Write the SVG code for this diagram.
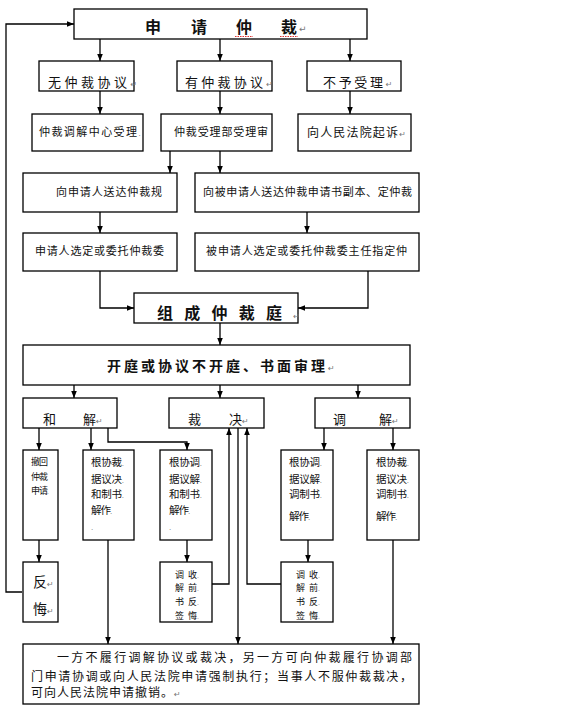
<svg xmlns="http://www.w3.org/2000/svg" width="577" height="707" viewBox="0 0 577 707">
<style>
rect.b{fill:#fff;stroke:#000;stroke-width:1.3}
text{font-family:"Noto Sans CJK SC","Noto Sans",sans-serif;fill:#111}
.t{font-weight:700}
.pm{font-family:"DejaVu Sans",sans-serif;fill:#777;font-weight:400}
#conn path{fill:none;stroke:#000;stroke-width:1.3}
.ar{marker-end:url(#a)}
</style>
<defs>
<marker id="a" viewBox="0 0 10 10" refX="10" refY="5" markerWidth="7" markerHeight="7" orient="auto" markerUnits="userSpaceOnUse"><path d="M0,1 L10,5 L0,9 z" fill="#000"/></marker>
</defs>
<rect width="577" height="707" fill="#fff"/>
<g id="conn">
<path class="ar" d="M22,592 H6 V24 H74"/>
<path class="ar" d="M100,39 V61"/><path class="ar" d="M220,39 V61"/><path class="ar" d="M350,39 V61"/>
<path class="ar" d="M100,91 V114"/><path class="ar" d="M220,91 V114"/><path class="ar" d="M350,91 V114"/>
<path class="ar" d="M170,151 V173"/><path class="ar" d="M220,151 V173"/>
<path class="ar" d="M100,212 V233"/><path class="ar" d="M307,212 V233"/>
<path class="ar" d="M100,271 V308 H134"/><path class="ar" d="M368,271 V308 H298"/>
<path class="ar" d="M220,323 V345"/>
<path class="ar" d="M74,385 V398"/><path class="ar" d="M220,385 V398"/><path class="ar" d="M358,385 V398"/>
<path class="ar" d="M39,428 V450"/><path class="ar" d="M91,428 V450"/><path class="ar" d="M108,428 V442 H187 V450"/>
<path class="ar" d="M324,428 V450"/><path class="ar" d="M393,428 V450"/>
<path class="ar" d="M39,540 V562"/><path class="ar" d="M187,540 V562"/><path class="ar" d="M308,540 V562"/>
<path class="ar" d="M212,584 H229 V428"/><path class="ar" d="M281,584 H247 V428"/>
<path class="ar" d="M238,428 V644"/><path class="ar" d="M108,540 V644"/><path class="ar" d="M393,540 V644"/>
</g>
<g id="n1"><rect class="b" x="74" y="9" width="293" height="30"/>
<text class="t" font-size="16" y="33"><tspan x="145">申</tspan><tspan x="191">请</tspan><tspan x="236">仲</tspan><tspan x="281">裁</tspan><tspan class="pm" font-size="9" x="299" y="32">↵</tspan></text>
<path d="M235,36.5 H253 M280,36.5 H298" stroke="#d33" stroke-width="1" stroke-dasharray="1.5,1"/></g>
<g id="n2"><rect class="b" x="39" y="61" width="95" height="30"/>
<text font-size="13" y="87"><tspan x="48" textLength="79" lengthAdjust="spacing">无仲裁协议</tspan><tspan class="pm" font-size="8">↵</tspan></text></g>
<g id="n3"><rect class="b" x="177" y="61" width="95" height="30"/>
<text font-size="13" y="87"><tspan x="185" textLength="78" lengthAdjust="spacing">有仲裁协议</tspan><tspan class="pm" font-size="8">↵</tspan></text></g>
<g id="n4"><rect class="b" x="307" y="61" width="94" height="30"/>
<text font-size="13" y="87"><tspan x="323" textLength="60" lengthAdjust="spacing">不予受理</tspan><tspan class="pm" font-size="8">↵</tspan></text></g>
<g id="n5"><rect class="b" x="32" y="114" width="111" height="37"/>
<text font-size="11" y="136"><tspan x="39" textLength="98" lengthAdjust="spacing">仲裁调解中心受理</tspan><tspan class="pm" font-size="7">.</tspan></text></g>
<g id="n6"><rect class="b" x="161" y="114" width="111" height="37"/>
<text font-size="11" y="136" x="174" textLength="94" lengthAdjust="spacing">仲裁受理部受理审</text></g>
<g id="n7"><rect class="b" x="298" y="114" width="113" height="37"/>
<text font-size="12" y="137"><tspan x="307" textLength="91" lengthAdjust="spacing">向人民法院起诉</tspan><tspan class="pm" font-size="8">↵</tspan></text></g>
<g id="n8"><rect class="b" x="23" y="173" width="154" height="39"/>
<text font-size="11" y="196" x="56" textLength="106" lengthAdjust="spacing">向申请人送达仲裁规</text></g>
<g id="n9"><rect class="b" x="195" y="173" width="224" height="39"/>
<text font-size="11" y="196" x="203" textLength="209" lengthAdjust="spacing">向被申请人送达仲裁申请书副本、定仲裁</text></g>
<g id="n10"><rect class="b" x="23" y="233" width="154" height="38"/>
<text font-size="11" y="255" x="35" textLength="129" lengthAdjust="spacing">申请人选定或委托仲裁委</text></g>
<g id="n11"><rect class="b" x="195" y="233" width="224" height="38"/>
<text font-size="11" y="255" x="206" textLength="201" lengthAdjust="spacing">被申请人选定或委托仲裁委主任指定仲</text></g>
<g id="n12"><rect class="b" x="134" y="293" width="164" height="30"/>
<text class="t" font-size="16" y="319"><tspan x="157" textLength="125" lengthAdjust="spacing">组成仲裁庭</tspan><tspan class="pm" font-size="8">↵</tspan></text></g>
<g id="n13"><rect class="b" x="23" y="345" width="387" height="40"/>
<text class="t" font-size="14" y="371"><tspan x="107" textLength="218" lengthAdjust="spacing">开庭或协议不开庭、书面审理</tspan><tspan class="pm" font-size="8">↵</tspan></text></g>
<g id="n14"><rect class="b" x="23" y="398" width="94" height="30"/>
<text font-size="13" y="424"><tspan x="43">和</tspan><tspan x="83">解</tspan><tspan class="pm" font-size="8">↵</tspan></text></g>
<g id="n15"><rect class="b" x="169" y="398" width="95" height="30"/>
<text font-size="13" y="424"><tspan x="188">裁</tspan><tspan x="229">决</tspan><tspan class="pm" font-size="8">↵</tspan></text></g>
<g id="n16"><rect class="b" x="315" y="398" width="95" height="30"/>
<text font-size="13" y="424"><tspan x="333">调</tspan><tspan x="379">解</tspan><tspan class="pm" font-size="8">↵</tspan></text></g>
<g id="n17"><rect class="b" x="23" y="450" width="35" height="90"/>
<text font-size="9"><tspan x="31" y="465" textLength="17" lengthAdjust="spacing">撤回</tspan><tspan x="31" y="480" textLength="17" lengthAdjust="spacing">仲裁</tspan><tspan x="31" y="494" textLength="17" lengthAdjust="spacing">申请</tspan><tspan class="pm" font-size="6">.</tspan></text></g>
<g id="n18"><rect class="b" x="83" y="450" width="51" height="90"/>
<text font-size="10.5"><tspan x="91" y="466" textLength="31" lengthAdjust="spacing">根协裁</tspan><tspan class="pm" font-size="7">.</tspan><tspan x="91" y="483" textLength="31" lengthAdjust="spacing">据议决</tspan><tspan class="pm" font-size="7">.</tspan><tspan x="91" y="498" textLength="31" lengthAdjust="spacing">和制书</tspan><tspan class="pm" font-size="7">.</tspan><tspan x="91" y="514" textLength="20" lengthAdjust="spacing">解作</tspan><tspan class="pm" font-size="7">.</tspan><tspan class="pm" font-size="7" x="91" y="530">.</tspan></text></g>
<g id="n19"><rect class="b" x="160" y="450" width="52" height="90"/>
<text font-size="10.5"><tspan x="169" y="466" textLength="31" lengthAdjust="spacing">根协调</tspan><tspan class="pm" font-size="7">.</tspan><tspan x="169" y="483" textLength="31" lengthAdjust="spacing">据议解</tspan><tspan class="pm" font-size="7">.</tspan><tspan x="169" y="498" textLength="31" lengthAdjust="spacing">和制书</tspan><tspan class="pm" font-size="7">.</tspan><tspan x="169" y="514" textLength="20" lengthAdjust="spacing">解作</tspan><tspan class="pm" font-size="7">.</tspan><tspan class="pm" font-size="7" x="169" y="530">.</tspan></text></g>
<g id="n20"><rect class="b" x="281" y="450" width="52" height="90"/>
<text font-size="10.5"><tspan x="289" y="466" textLength="31" lengthAdjust="spacing">根协调</tspan><tspan class="pm" font-size="7">.</tspan><tspan x="289" y="483" textLength="31" lengthAdjust="spacing">据议解</tspan><tspan class="pm" font-size="7">.</tspan><tspan x="289" y="498" textLength="31" lengthAdjust="spacing">调制书</tspan><tspan class="pm" font-size="7">.</tspan><tspan x="289" y="520" textLength="20" lengthAdjust="spacing">解作</tspan><tspan class="pm" font-size="7">.</tspan></text></g>
<g id="n21"><rect class="b" x="367" y="450" width="52" height="90"/>
<text font-size="10.5"><tspan x="376" y="466" textLength="31" lengthAdjust="spacing">根协裁</tspan><tspan class="pm" font-size="7">.</tspan><tspan x="376" y="483" textLength="31" lengthAdjust="spacing">据议决</tspan><tspan class="pm" font-size="7">.</tspan><tspan x="376" y="498" textLength="31" lengthAdjust="spacing">调制书</tspan><tspan class="pm" font-size="7">.</tspan><tspan x="376" y="520" textLength="20" lengthAdjust="spacing">解作</tspan><tspan class="pm" font-size="7">.</tspan></text></g>
<g id="n22"><rect class="b" x="23" y="562" width="35" height="60"/>
<text font-size="14"><tspan x="33" y="587">反</tspan><tspan class="pm" font-size="8">↵</tspan><tspan x="33" y="614">悔</tspan><tspan class="pm" font-size="8">↵</tspan></text></g>
<g id="n23"><rect class="b" x="160" y="562" width="52" height="60"/>
<text font-size="9"><tspan x="175" y="578">调</tspan><tspan x="188">收</tspan><tspan class="pm" font-size="6">.</tspan><tspan x="175" y="591">解</tspan><tspan x="188">前</tspan><tspan class="pm" font-size="6">.</tspan><tspan x="175" y="605">书</tspan><tspan x="188">反</tspan><tspan class="pm" font-size="6">.</tspan><tspan x="175" y="619">签</tspan><tspan x="188">悔</tspan><tspan class="pm" font-size="6">.</tspan></text></g>
<g id="n24"><rect class="b" x="281" y="562" width="52" height="60"/>
<text font-size="9"><tspan x="296" y="578">调</tspan><tspan x="309">收</tspan><tspan class="pm" font-size="6">.</tspan><tspan x="296" y="591">解</tspan><tspan x="309">前</tspan><tspan class="pm" font-size="6">.</tspan><tspan x="296" y="605">书</tspan><tspan x="309">反</tspan><tspan class="pm" font-size="6">.</tspan><tspan x="296" y="619">签</tspan><tspan x="309">悔</tspan><tspan class="pm" font-size="6">.</tspan></text></g>
<g id="n25"><rect class="b" x="23" y="644" width="396" height="60"/>
<text font-size="12"><tspan x="57" y="662" textLength="355" lengthAdjust="spacing">一方不履行调解协议或裁决，另一方可向仲裁履行协调部</tspan><tspan x="31" y="681" textLength="381" lengthAdjust="spacing">门申请协调或向人民法院申请强制执行；当事人不服仲裁裁决，</tspan><tspan x="31" y="697" textLength="142" lengthAdjust="spacing">可向人民法院申请撤销。</tspan><tspan class="pm" font-size="8">↵</tspan></text></g>
</svg>
